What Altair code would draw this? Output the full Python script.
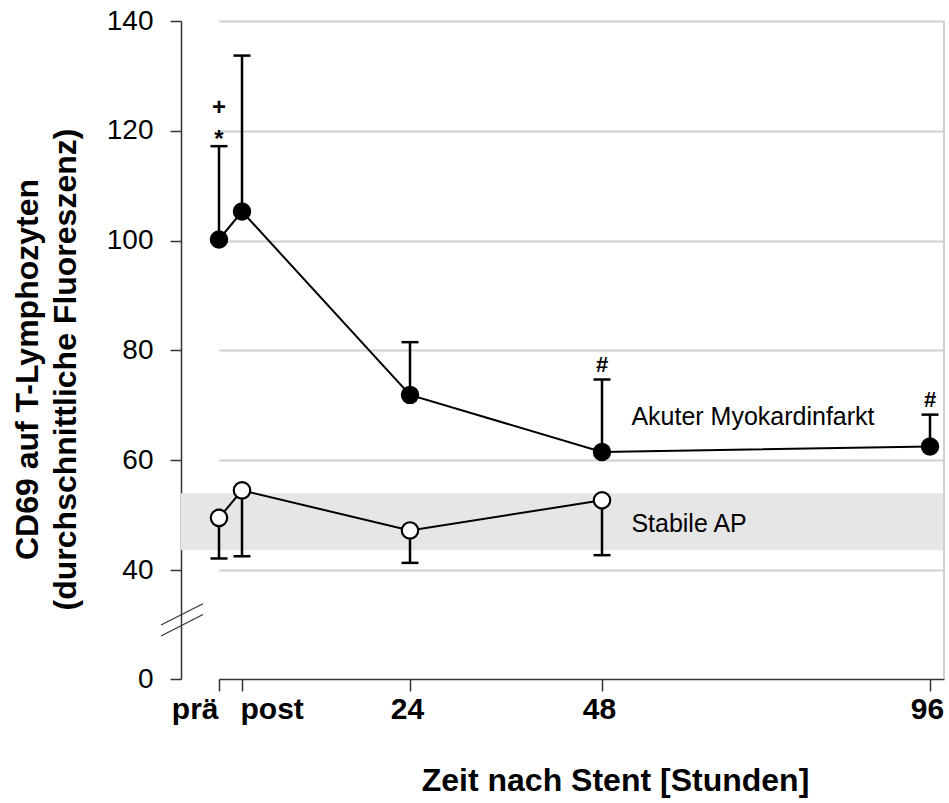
import altair as alt
import pandas as pd

# ---------------- data ----------------
times = ["prä", "post", "24", "48", "96"]
hours = [-1, 0, 24, 48, 96]          # prä drawn just before post (stent = 0 h)

ami_mean = [100.2, 105.3, 71.9, 61.5, 62.5]
ami_upper = [117.2, 133.7, 81.5, 74.7, 68.3]

stable_hours = [-1, 0, 24, 48]
stable_mean = [49.5, 54.5, 47.2, 52.7]
stable_lower = [42.1, 42.5, 41.3, 42.7]

band_upper = [54.0]
band_lower = [43.6]

sig_hours = [-1, -1, 48, 96]
sig_symbols = ["*", "+", "#", "#"]

series_labels = ["Akuter Myokardinfarkt", "Stabile AP"]
series_label_hours = [52.3, 52.3]
series_label_values = [67.9, 48.3]

y_ticks = [0, 40, 60, 80, 100, 120, 140]
break_values = [[19.8, 27.6], [15.8, 23.7]]

FONT = "Liberation Sans"

# ---------------- tables ----------------
ami_df = pd.DataFrame({"h": hours, "mean": ami_mean, "upper": ami_upper})
stable_df = pd.DataFrame({"h": stable_hours, "mean": stable_mean, "lower": stable_lower})
band_df = pd.DataFrame({"lo": band_lower, "hi": band_upper})
upper_lookup = dict(zip(hours, ami_upper))
sig_df = pd.DataFrame({"h": sig_hours, "sym": sig_symbols,
                       "y": [upper_lookup[h] for h in sig_hours]})
lab_df = pd.DataFrame({"h": series_label_hours, "v": series_label_values, "t": series_labels})
brk_df = pd.DataFrame({"y1": [b[0] for b in break_values], "y2": [b[1] for b in break_values]})

x_scale = alt.Scale(domain=[-1, 0, 24, 48, 96, 98], range=[38, 61, 229, 421, 749, 763],
                    nice=False, zero=False)
y_scale = alt.Scale(domain=[0, 40, 140], range=[658, 549, 0], nice=False, zero=False)

label_expr = " : ".join(f"datum.value == {h} ? '{t}'" for h, t in zip(hours, times)) + " : ''"

x_axis = alt.Axis(
    values=hours, labelExpr=label_expr, grid=False,
    domainColor="#333333", domainWidth=1.5, tickColor="#333333", tickWidth=1.5, tickSize=12,
    labelFont=FONT, labelFontSize=30, labelFontWeight="bold", labelColor="black",
    labelPadding=3, labelFlush=False, labelOverlap=False,
    labelAlign={"condition": [{"test": "datum.value == -1", "value": "right"},
                              {"test": "datum.value == 0", "value": "left"}],
                "value": "center"},
    labelOffset={"condition": [{"test": "datum.value == -1", "value": -1},
                               {"test": "datum.value == 0", "value": -2}],
                 "value": -3},
    title="Zeit nach Stent [Stunden]", titleFont=FONT, titleFontSize=32, titleFontWeight="bold",
    titleColor="black", titleX=434, titleY=111, titleAlign="center", titleBaseline="alphabetic",
)
y_axis = alt.Axis(
    values=y_ticks, grid=True, gridColor="#d0d0d0", gridWidth=2,
    gridOpacity={"condition": {"test": "datum.value == 0", "value": 0}, "value": 1},
    domainColor="#333333", domainWidth=1.5, tickColor="#333333", tickWidth=1.5, tickSize=11,
    labelFont=FONT, labelFontSize=28, labelColor="black", labelPadding=17,
    labelOverlap=False, labelFlush=False,
    title=["CD69 auf T-Lymphozyten", "(durchschnittliche Fluoreszenz)"],
    titleFont=FONT, titleFontSize=32, titleFontWeight="bold", titleColor="black",
    titleLineHeight=38, titleAngle=270, titleX=-144, titleY=348, titleAlign="center",
    titleBaseline="alphabetic",
)

X = lambda f: alt.X(f, type="quantitative", scale=x_scale, axis=x_axis)
Y = lambda f: alt.Y(f, type="quantitative", scale=y_scale, axis=y_axis)

band = alt.Chart(band_df).mark_rect(color="#e6e6e6").encode(
    y=Y("hi"), y2="lo")

right_border = alt.Chart(band_df).mark_rule(color="#d0d0d0", strokeWidth=2).encode(
    x=alt.X(datum=98, type="quantitative", scale=x_scale, axis=x_axis))

breaks = alt.Chart(brk_df).mark_rule(color="#333333", strokeWidth=1.2).encode(
    x=alt.value(-20), x2=alt.value(22), y=Y("y1"), y2="y2")

ami_err = alt.Chart(ami_df).mark_rule(color="black", strokeWidth=2.5).encode(
    x=X("h"), y=Y("mean"), y2="upper")
ami_cap = alt.Chart(ami_df).mark_tick(color="black", orient="horizontal", size=17,
                                     thickness=2.5, opacity=1).encode(x=X("h"), y=Y("upper"))
st_err = alt.Chart(stable_df).mark_rule(color="black", strokeWidth=2.5).encode(
    x=X("h"), y=Y("mean"), y2="lower")
st_cap = alt.Chart(stable_df).mark_tick(color="black", orient="horizontal", size=17,
                                       thickness=2.5, opacity=1).encode(x=X("h"), y=Y("lower"))

ami_line = alt.Chart(ami_df).mark_line(color="black", strokeWidth=2).encode(
    x=X("h"), y=Y("mean"), order="h:Q")
st_line = alt.Chart(stable_df).mark_line(color="black", strokeWidth=2).encode(
    x=X("h"), y=Y("mean"), order="h:Q")

ami_pts = alt.Chart(ami_df).mark_circle(color="black", size=340, opacity=1).encode(
    x=X("h"), y=Y("mean"))
st_pts = alt.Chart(stable_df).mark_circle(color="white", stroke="black", strokeWidth=2.2,
                                          size=270, opacity=1).encode(x=X("h"), y=Y("mean"))

sig_base = alt.Chart(sig_df)
sig_star = sig_base.transform_filter("datum.sym == '*'").mark_text(
    font=FONT, fontSize=24, fontWeight="bold", color="black", baseline="alphabetic", dy=1
).encode(x=X("h"), y=Y("y"), text="sym:N")
sig_plus = sig_base.transform_filter("datum.sym == '+'").mark_text(
    font=FONT, fontSize=24, fontWeight="bold", color="black", baseline="alphabetic", dy=-31
).encode(x=X("h"), y=Y("y"), text="sym:N")
sig_hash = sig_base.transform_filter("datum.sym == '#'").mark_text(
    font=FONT, fontSize=22, fontWeight="bold", color="black", baseline="alphabetic", dy=-7.5
).encode(x=X("h"), y=Y("y"), text="sym:N")

labels = alt.Chart(lab_df).mark_text(
    font=FONT, fontSize=25, color="black", align="left", baseline="middle"
).encode(x=X("h"), y=Y("v"), text="t:N")

chart = alt.layer(
    band, right_border, ami_line, st_line, ami_err, st_err, ami_cap, st_cap,
    ami_pts, st_pts, sig_star, sig_plus, sig_hash, labels, breaks
).properties(
    width=763, height=658,
    autosize=alt.AutoSizeParams(type="none"),
    padding={"left": 181, "top": 21, "right": 5, "bottom": 124},
).configure_view(stroke=None)

chart.save("out.html", embed_options={"renderer": "svg", "actions": False})
